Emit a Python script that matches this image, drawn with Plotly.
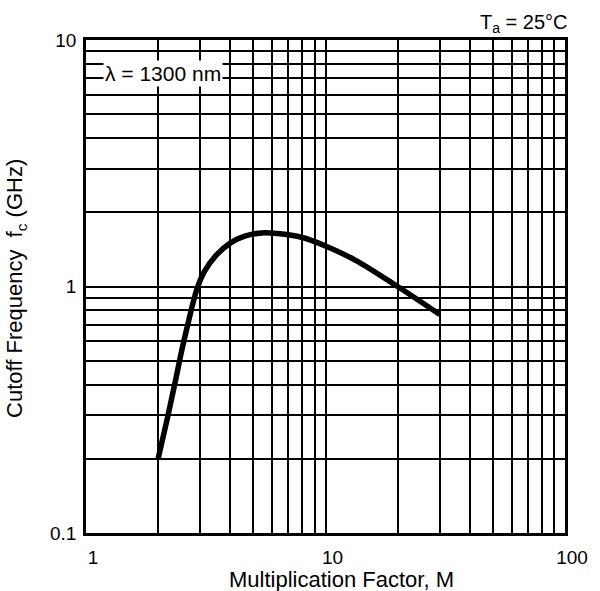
import plotly.graph_objects as go

# Cutoff frequency vs. multiplication factor (lambda = 1300 nm, Ta = 25 C)
mult_factor = [2.0, 2.2, 2.37, 2.52, 2.66, 2.8, 2.93, 3.12, 3.5, 4.0, 4.6,
               5.4, 6.3, 8.0, 10.0, 13.3, 20.0, 30.0]
cutoff_ghz = [0.2, 0.3, 0.42, 0.56, 0.7, 0.86, 1.0, 1.15, 1.34, 1.5, 1.6,
              1.65, 1.64, 1.58, 1.46, 1.28, 1.0, 0.77]

x_ticks = [1, 10, 100]
x_tick_text = ["1", "10", "100"]
y_ticks = [0.1, 1, 10]
y_tick_text = ["0.1", "1", "10"]

FONT = "Liberation Sans, Arial, sans-serif"

def minor_vals(lo_exp, hi_exp):
    return [m * 10 ** e for e in range(lo_exp, hi_exp) for m in range(2, 10)]

fig = go.Figure()
fig.add_trace(go.Scatter(
    x=mult_factor, y=cutoff_ghz, mode="lines",
    line=dict(color="black", width=5.5, shape="spline", smoothing=1.0),
    showlegend=False, hoverinfo="skip",
))

axis_common = dict(
    type="log",
    showgrid=True, gridcolor="black", gridwidth=1.6,
    showline=True, linecolor="black", linewidth=2.8, mirror=True,
    ticks="", zeroline=False,
    tickfont=dict(family=FONT, size=19, color="black"),
)

fig.update_xaxes(
    range=[0, 2], tickmode="array", tickvals=x_ticks, ticktext=x_tick_text,
    minor=dict(tickmode="array", tickvals=minor_vals(0, 2), showgrid=True,
               gridcolor="black", gridwidth=1.6, ticks=""),
    ticklabelshift=7, ticklabelstandoff=5,
    **axis_common,
)
fig.update_yaxes(
    range=[-1, 1], tickmode="array", tickvals=y_ticks, ticktext=y_tick_text,
    minor=dict(tickmode="array", tickvals=minor_vals(-1, 1), showgrid=True,
               gridcolor="black", gridwidth=1.6, ticks=""),
    ticklabelstandoff=3,
    **axis_common,
)

# Axis titles
fig.add_annotation(
    x=0.533, y=0, xref="paper", yref="paper", xanchor="center", yanchor="top",
    yshift=-32, text="Multiplication Factor, M", showarrow=False,
    font=dict(family=FONT, size=22, color="black"),
)
fig.add_annotation(
    x=0, y=0.495, xref="paper", yref="paper", xanchor="right", yanchor="middle",
    xshift=-54, textangle=-90, text="Cutoff Frequency  f<sub>c</sub> (GHz)",
    showarrow=False, font=dict(family=FONT, size=22, color="black"),
)

fig.add_annotation(
    x=1, y=1, xref="paper", yref="paper", xanchor="right", yanchor="bottom",
    xshift=5, yshift=2, text="T<sub>a</sub> = 25°C", showarrow=False,
    font=dict(family=FONT, size=20, color="black"),
)
fig.add_annotation(
    x=0.035, y=0.933, xref="paper", yref="paper", xanchor="left", yanchor="middle",
    text="λ = 1300 nm", showarrow=False, bgcolor="white", borderpad=1,
    font=dict(family=FONT, size=21, color="black"),
)

fig.update_layout(
    width=600, height=591,
    margin=dict(l=86, r=28, t=40, b=58),
    paper_bgcolor="white", plot_bgcolor="white",
    font=dict(family=FONT, color="black"),
)

fig.write_html("out.html")
